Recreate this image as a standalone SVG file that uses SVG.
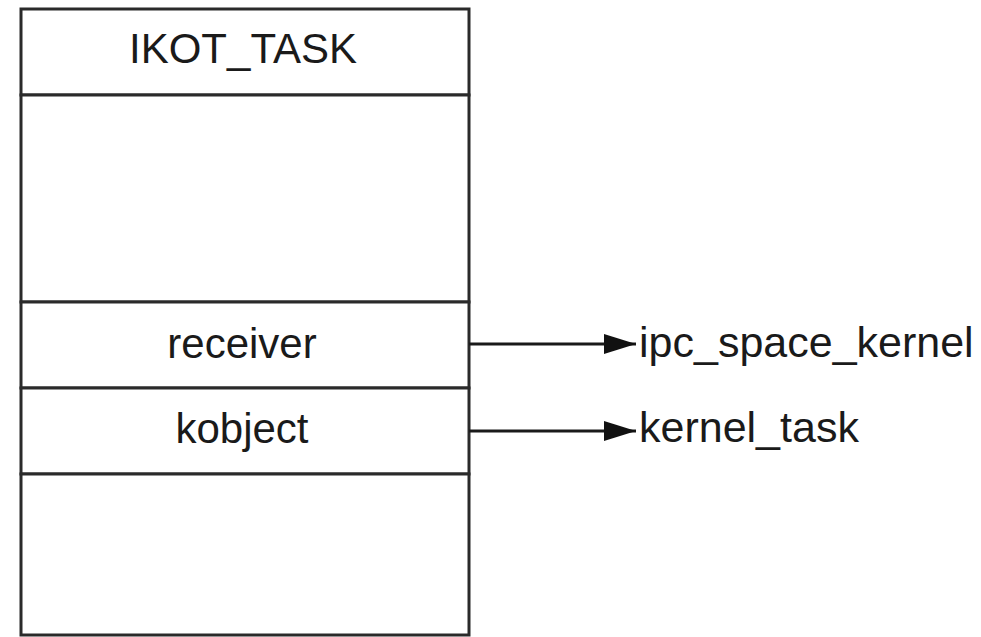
<svg xmlns="http://www.w3.org/2000/svg" width="981" height="637" viewBox="0 0 981 637">
  <style>
    .cell { fill: #ffffff; stroke: #2a2a2a; stroke-width: 3; }
    .field { font-family: "Liberation Sans", Arial, sans-serif; font-size: 42px; fill: #1a1a1a; text-anchor: middle; }
    .target { font-family: "Liberation Sans", Arial, sans-serif; font-size: 43px; fill: #1a1a1a; }
    .link { stroke: #1a1a1a; stroke-width: 3; fill: none; }
  </style>
  <defs>
    <marker id="arrow" markerUnits="userSpaceOnUse" markerWidth="34" markerHeight="22" refX="32" refY="10" orient="auto">
      <path d="M0,0 L32,10 L0,20 Z" fill="#111111"/>
    </marker>
  </defs>
  <rect width="981" height="637" fill="#ffffff"/>

  <!-- ipc port struct, drawn as stacked cells -->
  <g id="ikot_task">
    <rect class="cell" x="21" y="9" width="448" height="86"/>
    <text class="field" x="243" y="63">IKOT_TASK</text>
  </g>
  <g id="blank_upper">
    <rect class="cell" x="21" y="95" width="448" height="207"/>
  </g>
  <g id="receiver">
    <rect class="cell" x="21" y="302" width="448" height="86"/>
    <text class="field" x="242" y="358">receiver</text>
  </g>
  <g id="kobject">
    <rect class="cell" x="21" y="388" width="448" height="86"/>
    <text class="field" x="242" y="443">kobject</text>
  </g>
  <g id="blank_lower">
    <rect class="cell" x="21" y="474" width="448" height="161"/>
  </g>

  <!-- pointer targets -->
  <g id="ipc_space_kernel">
    <text class="target" x="639" y="357">ipc_space_kernel</text>
  </g>
  <g id="kernel_task">
    <text class="target" x="639" y="442">kernel_task</text>
  </g>

  <g id="connectors">
    <line class="link" x1="469" y1="344" x2="636" y2="344" marker-end="url(#arrow)"/>
    <line class="link" x1="469" y1="431" x2="636" y2="431" marker-end="url(#arrow)"/>
  </g>
</svg>
